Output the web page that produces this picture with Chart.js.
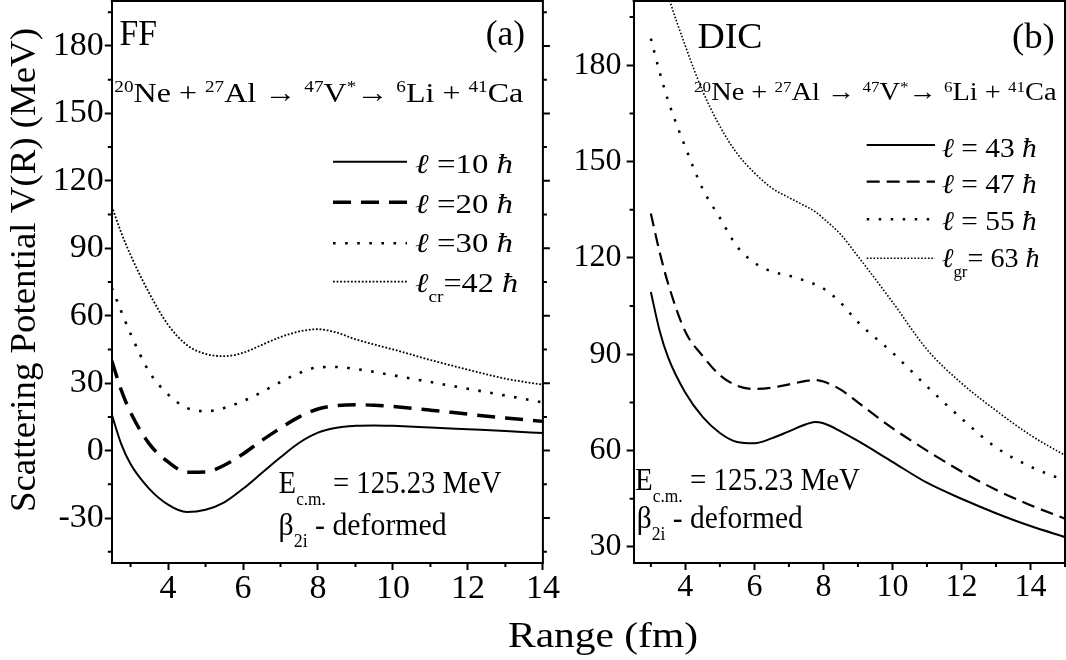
<!DOCTYPE html>
<html>
<head>
<meta charset="utf-8">
<script src="https://cdn.jsdelivr.net/npm/chart.js"></script>
<style>
  html, body { margin: 0; padding: 0; background: #fff; }
  body { width: 1066px; height: 660px; position: relative; overflow: hidden; }
  canvas { position: absolute; top: 0; }
  #left { left: 0; }
  #right { left: 566px; }
</style>
</head>
<body>
<canvas id="left" width="720" height="660"></canvas>
<canvas id="right" width="500" height="660"></canvas>
<script>
// panel (a) FF
const ffR = [2.5, 2.75, 3, 3.5, 4, 4.5, 5, 5.5, 6, 6.5, 7, 7.5, 8, 8.5, 9, 9.5, 10, 11, 12, 13, 14];
const ff10 = [16, 3, -6, -17, -24, -27.3, -26.3, -23, -17, -10, -3, 3.5, 8, 10.2, 11, 11.2, 11, 10.3, 9.5, 8.7, 7.8];
const ff20 = [40, 27, 17, 3, -5, -9.6, -9.5, -6.5, -1.5, 4.5, 10, 15, 18.5, 20, 20.4, 20.2, 19.6, 18, 16.2, 14.5, 13];
const ff30 = [72.4, 62, 52, 35, 25, 19, 17.5, 19, 22, 26, 30.5, 34.5, 37, 37.2, 36.3, 35, 33.5, 30.5, 27.5, 24.5, 21.4];
const ff42 = [108.7, 97, 87, 70, 56, 47, 43, 42, 43.5, 47, 50.5, 53, 54, 52.5, 49.5, 47.2, 45, 40.3, 36, 32, 29.3];

// panel (b) DIC
const dicR = [3, 3.25, 3.5, 4, 4.5, 5, 5.5, 6, 6.5, 7, 7.5, 7.75, 8, 8.5, 9, 10, 11, 12, 13, 14, 15];
const dic43 = [109.4, 97.5, 89, 78, 70.5, 65.5, 62.7, 62.3, 63.8, 66, 68.2, 68.9, 68.5, 66, 63, 56.5, 50, 45, 40.5, 36.5, 33.1];
const dic47 = [133.8, 122, 112, 97, 89.5, 83.5, 80.2, 79.2, 79.6, 80.6, 81.7, 82, 81.5, 79, 75, 67, 60, 53.5, 47.8, 43, 38.8];
const dic55 = [188.3, 178, 169, 154.5, 141.5, 132.5, 123.5, 118.5, 115.8, 114.5, 112.8, 111.8, 110.5, 106, 100, 90.5, 80, 70, 61, 55, 50.7];
const dic63 = [226, 213, 202, 186, 172, 161, 152.5, 146.5, 141.8, 138.8, 136, 134.5, 132.3, 127.3, 120.5, 106.3, 91.5, 81, 72.5, 64.8, 58.5];

// ticks
const ffXTicks = [4, 6, 8, 10, 12, 14];
const ffXMinor = [3, 5, 7, 9, 11, 13];
const ffYTicks = [-30, 0, 30, 60, 90, 120, 150, 180];
const ffYMinor = [-45, -15, 15, 45, 75, 105, 135, 165, 195];
const dicXTicks = [4, 6, 8, 10, 12, 14];
const dicXMinor = [3, 5, 7, 9, 11, 13, 15];
const dicYTicks = [30, 60, 90, 120, 150, 180];
const dicYMinor = [45, 75, 105, 135, 165, 195];

const SERIF = '"Liberation Serif", "Times New Roman", serif';
Chart.defaults.font.family = SERIF;
Chart.defaults.color = '#000';

function pts(xs, ys) {
  return xs.map((x, i) => ({x: x, y: ys[i]}));
}

function runFont(kind, size) {
  const small = kind === 'sup' || kind === 'sub';
  const s = small ? size * 0.6 : size;
  return (kind === 'i' ? 'italic ' : '') + s + 'px ' + SERIF;
}

// draws a line of mixed text (normal, italic, sup, sub) squeezed to a given width
function drawRich(ctx, runs, x, y, size, width) {
  ctx.save();
  let total = 0;
  runs.forEach(r => { ctx.font = runFont(r[1], size); total += ctx.measureText(r[0]).width; });
  ctx.translate(x, y);
  ctx.scale(width ? width / total : 1, 1);
  ctx.textBaseline = 'alphabetic';
  ctx.textAlign = 'left';
  ctx.fillStyle = '#000';
  let cx = 0;
  runs.forEach(r => {
    ctx.font = runFont(r[1], size);
    let dy = 0;
    if (r[1] === 'sup') dy = -0.33 * size;
    if (r[1] === 'sub') dy = 0.38 * size;
    ctx.fillText(r[0], cx, dy);
    cx += ctx.measureText(r[0]).width;
  });
  ctx.restore();
}

const panelDeco = {
  id: 'panelDeco',
  afterDraw(chart, args, opts) {
    const ctx = chart.ctx;
    const a = chart.chartArea;
    const xs = chart.scales.x, ys = chart.scales.y;
    ctx.save();
    ctx.strokeStyle = '#000';
    ctx.lineWidth = 2;
    ctx.beginPath();
    ctx.moveTo(a.left - 1, a.top);
    ctx.lineTo(a.right, a.top);
    ctx.lineTo(a.right, a.bottom + 1);
    ctx.stroke();
    ctx.beginPath();
    opts.xMinor.forEach(v => {
      const p = xs.getPixelForValue(v);
      ctx.moveTo(p, a.bottom); ctx.lineTo(p, a.bottom + 4);
    });
    opts.yMinor.forEach(v => {
      const p = ys.getPixelForValue(v);
      if (p < a.top) return;
      ctx.moveTo(a.left - 4, p); ctx.lineTo(a.left, p);
      ctx.moveTo(a.right, p); ctx.lineTo(a.right + 4, p);
    });
    opts.yMajor.forEach(v => {
      const p = ys.getPixelForValue(v);
      ctx.moveTo(a.right, p); ctx.lineTo(a.right + 7, p);
    });
    ctx.stroke();

    // legend
    const lg = opts.legend;
    lg.rows.forEach((row, i) => {
      const ds = chart.data.datasets[i];
      ctx.beginPath();
      ctx.lineWidth = ds.borderWidth;
      ctx.setLineDash(ds.borderDash || []);
      ctx.moveTo(lg.x1, row.ly);
      ctx.lineTo(lg.x2, row.ly);
      ctx.stroke();
      ctx.setLineDash([]);
      drawRich(ctx, row.runs, lg.tx, row.ty, lg.size, row.tw);
    });

    opts.notes.forEach(n => drawRich(ctx, n.runs, n.x, n.y, n.size, n.w));

    if (opts.yTitle) {
      const t = opts.yTitle;
      ctx.save();
      ctx.translate(t.x, t.y);
      ctx.rotate(-Math.PI / 2);
      drawRich(ctx, t.runs, 0, 0, t.size, t.w);
      ctx.restore();
    }
    ctx.restore();
  }
};

const reaction = [['20', 'sup'], ['Ne + ', 'n'], ['27', 'sup'], ['Al \u2192 ', 'n'], ['47', 'sup'], ['V', 'n'], ['*', 'sup'],
  ['\u2192 ', 'n'], ['6', 'sup'], ['Li + ', 'n'], ['41', 'sup'], ['Ca', 'n']];
const ecm = [['E', 'n'], ['c.m.', 'sub'], [' = 125.23 MeV', 'n']];
const beta = [['\u03b2', 'n'], ['2i', 'sub'], [' - deformed', 'n']];

function axes(o) {
  const tickFont = {family: SERIF, size: o.tickSize, lineHeight: 1};
  return {
    x: {
      type: 'linear', min: o.xMin, max: o.xMax,
      afterBuildTicks: s => { s.ticks = o.xTicks.map(v => ({value: v})); },
      afterFit: s => { s.height = 97; s.paddingLeft = 0; s.paddingRight = 0; },
      grid: {drawOnChartArea: false, tickLength: 7, tickWidth: 2, tickColor: '#000'},
      border: {display: true, color: '#000', width: 2},
      ticks: {font: tickFont, color: '#000', padding: 2, maxRotation: 0}
    },
    y: {
      type: 'linear', min: o.yMin, max: o.yMax,
      afterBuildTicks: s => { s.ticks = o.yTicks.map(v => ({value: v})); },
      afterFit: s => { s.width = o.yWidth; s.paddingTop = 0; s.paddingBottom = 0; },
      grid: {drawOnChartArea: false, tickLength: 7, tickWidth: 2, tickColor: '#000'},
      border: {display: true, color: '#000', width: 2},
      ticks: {font: tickFont, color: '#000', padding: o.yPad}
    }
  };
}

function line(label, xs, ys, width, dash) {
  return {
    label: label, data: pts(xs, ys), borderColor: '#000', borderWidth: width, borderDash: dash,
    pointRadius: 0, fill: false, cubicInterpolationMode: 'monotone'
  };
}

new Chart(document.getElementById('left'), {
  type: 'line',
  data: {
    datasets: [
      line('l=10', ffR, ff10, 2, []),
      line('l=20', ffR, ff20, 3.5, [18, 10]),
      line('l=30', ffR, ff30, 2.6, [2.6, 9.5]),
      line('lcr=42', ffR, ff42, 1.8, [1.8, 1.8])
    ]
  },
  options: {
    responsive: false, animation: false,
    layout: {padding: {left: 0, right: 177.1, top: 1, bottom: 0}},
    scales: axes({xMin: 2.5, xMax: 14, yMin: -50, yMax: 200, xTicks: ffXTicks, yTicks: ffYTicks,
      yWidth: 111.8, yPad: 1, tickSize: 34}),
    plugins: {
      legend: {display: false}, tooltip: {enabled: false},
      panelDeco: {
        xMinor: ffXMinor, yMinor: ffYMinor, yMajor: ffYTicks,
        legend: {
          x1: 333, x2: 407, tx: 415, size: 27,
          rows: [
            {ly: 161.7, ty: 173.3, tw: 98, runs: [['\u2113', 'i'], [' =10 ', 'n'], ['\u0127', 'i']]},
            {ly: 202.3, ty: 213.3, tw: 98, runs: [['\u2113', 'i'], [' =20 ', 'n'], ['\u0127', 'i']]},
            {ly: 243.3, ty: 251.7, tw: 98, runs: [['\u2113', 'i'], [' =30 ', 'n'], ['\u0127', 'i']]},
            {ly: 281.7, ty: 291.7, tw: 103, runs: [['\u2113', 'i'], ['cr', 'sub'], ['=42 ', 'n'], ['\u0127', 'i']]}
          ]
        },
        notes: [
          {runs: [['FF', 'n']], x: 119.6, y: 45, size: 35, w: 37.5},
          {runs: [['(a)', 'n']], x: 485.7, y: 45, size: 35, w: 39.3},
          {runs: reaction, x: 114.3, y: 101.7, size: 28, w: 409},
          {runs: ecm, x: 278.6, y: 493.3, size: 32, w: 223},
          {runs: beta, x: 278.6, y: 535, size: 32, w: 168},
          {runs: [['Range (fm)', 'n']], x: 508, y: 647, size: 36, w: 190}
        ],
        yTitle: {runs: [['Scattering Potential V(R) (MeV)', 'n']], x: 35, y: 512, size: 35, w: 484}
      }
    }
  },
  plugins: [panelDeco]
});

new Chart(document.getElementById('right'), {
  type: 'line',
  data: {
    datasets: [
      line('l=43', dicR, dic43, 2, []),
      line('l=47', dicR, dic47, 2.2, [13, 7]),
      line('l=55', dicR, dic55, 2.5, [2.5, 9.5]),
      line('lgr=63', dicR, dic63, 1.6, [1.6, 1.8])
    ]
  },
  options: {
    responsive: false, animation: false,
    layout: {padding: {left: 0, right: 1, top: 1, bottom: 0}},
    scales: axes({xMin: 2.5, xMax: 15, yMin: 25, yMax: 200, xTicks: dicXTicks, yTicks: dicYTicks,
      yWidth: 67.6, yPad: 5, tickSize: 32}),
    plugins: {
      legend: {display: false}, tooltip: {enabled: false},
      panelDeco: {
        xMinor: dicXMinor, yMinor: dicYMinor, yMajor: dicYTicks,
        legend: {
          x1: 300.7, x2: 369, tx: 375.7, size: 27,
          rows: [
            {ly: 145, ty: 156.7, tw: 95, runs: [['\u2113', 'i'], [' = 43 ', 'n'], ['\u0127', 'i']]},
            {ly: 181.7, ty: 193.3, tw: 95, runs: [['\u2113', 'i'], [' = 47 ', 'n'], ['\u0127', 'i']]},
            {ly: 219.3, ty: 230, tw: 95, runs: [['\u2113', 'i'], [' = 55 ', 'n'], ['\u0127', 'i']]},
            {ly: 258.3, ty: 266.7, tw: 98, runs: [['\u2113', 'i'], ['gr', 'sub'], ['= 63 ', 'n'], ['\u0127', 'i']]}
          ]
        },
        notes: [
          {runs: [['DIC', 'n']], x: 131.5, y: 48.3, size: 35, w: 65},
          {runs: [['(b)', 'n']], x: 446, y: 48.3, size: 35, w: 42.8},
          {runs: reaction, x: 128.1, y: 100, size: 25, w: 362.4},
          {runs: ecm, x: 69, y: 490, size: 32, w: 225},
          {runs: beta, x: 70.7, y: 528, size: 32, w: 166}
        ]
      }
    }
  },
  plugins: [panelDeco]
});
</script>
</body>
</html>
